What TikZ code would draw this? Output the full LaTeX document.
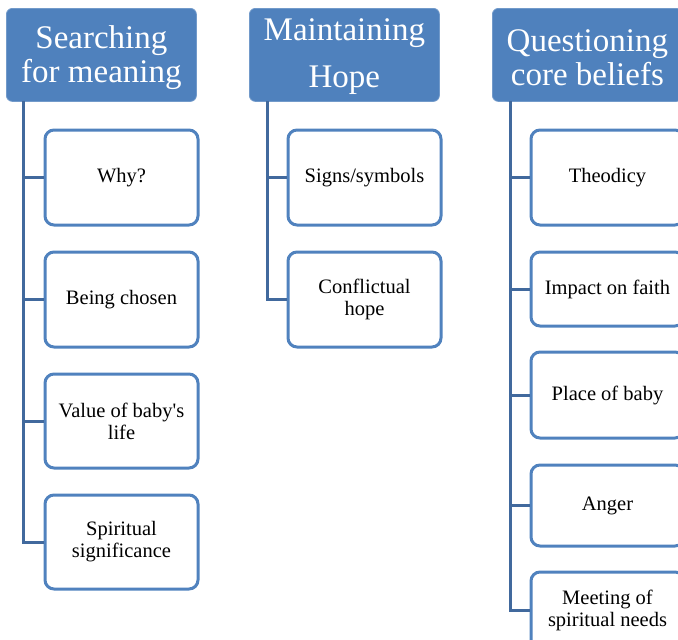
\documentclass[tikz,border=0pt]{standalone}
\usepackage{fontspec}
\setmainfont{Liberation Serif}
\definecolor{hdr}{HTML}{4F81BD}
\definecolor{boxline}{HTML}{5082BE}
\definecolor{trunk}{HTML}{41699D}
\begin{document}
\begin{tikzpicture}[x=1pt,y=-1pt,
  header/.style={fill=hdr,draw=hdr!80!white,line width=0.8pt,rounded corners=6pt,minimum width=190pt,minimum height=93pt,anchor=north west},
  htext/.style={text=white,align=center,font=\fontsize{33}{34}\selectfont},
  child/.style={draw=boxline,fill=white,line width=3pt,rounded corners=9pt,align=center,minimum width=153pt,anchor=north west,font=\fontsize{20.5}{22}\selectfont},
  conn/.style={draw=trunk,line width=3pt}]
\useasboundingbox (0,0) rectangle (678,640);
\begin{scope}
\clip (0,0) rectangle (678,640);
% headers
\node[header] (h1) at (6,8) {};
\node[htext] (h1t) at ([yshift=-3pt]h1.center) {Searching\\for meaning};
\node[header] (h2) at (249,8) {};
\node[htext,font=\fontsize{33}{47}\selectfont] (h2t) at ([yshift=-1.5pt]h2.center) {Maintaining\\Hope};
\node[header] (h3) at (492,8) {};
\node[htext] (h3t) at ([yshift=-3pt]h3.center) {Questioning\\core beliefs};
% column 1
\node[child,minimum height=95pt] (a1) at (43.5,128.5) {Why?};
\node[child,minimum height=95pt] (a2) at (43.5,250.5) {Being chosen};
\node[child,minimum height=94pt] (a3) at (43.5,372.5) {Value of baby\textquotesingle s\\life};
\node[child,minimum height=94pt] (a4) at (43.5,493.5) {Spiritual\\significance};
% column 2
\node[child,minimum height=95pt] (b1) at (286.5,128.5) {Signs/symbols};
\node[child,minimum height=95pt] (b2) at (286.5,250.5) {Conflictual\\hope};
% column 3
\node[child,minimum height=95pt] (c1) at (529.5,128.5) {Theodicy};
\node[child,minimum height=74pt] (c2) at (529.5,250.5) {Impact on faith};
\node[child,minimum height=86pt] (c3) at (529.5,350.5) {Place of baby};
\node[child,minimum height=81pt] (c4) at (529.5,463.5) {Anger};
\node[child,minimum height=77pt] (c5) at (529.5,570.5) {Meeting of\\spiritual needs};
% trunks
\coordinate (t1) at (23,101);
\coordinate (t2) at (267,101);
\coordinate (t3) at (510,101);
\draw[conn] (t1) |- (a4.west);
\foreach \n in {a1,a2,a3} \draw[conn] (t1 |- \n.west) -- (\n.west);
\draw[conn] (t2) |- (b2.west);
\draw[conn] (t2 |- b1.west) -- (b1.west);
\draw[conn] (t3) |- (c5.west);
\foreach \n in {c1,c2,c3,c4} \draw[conn] (t3 |- \n.west) -- (\n.west);
\end{scope}
\end{tikzpicture}
\end{document}
